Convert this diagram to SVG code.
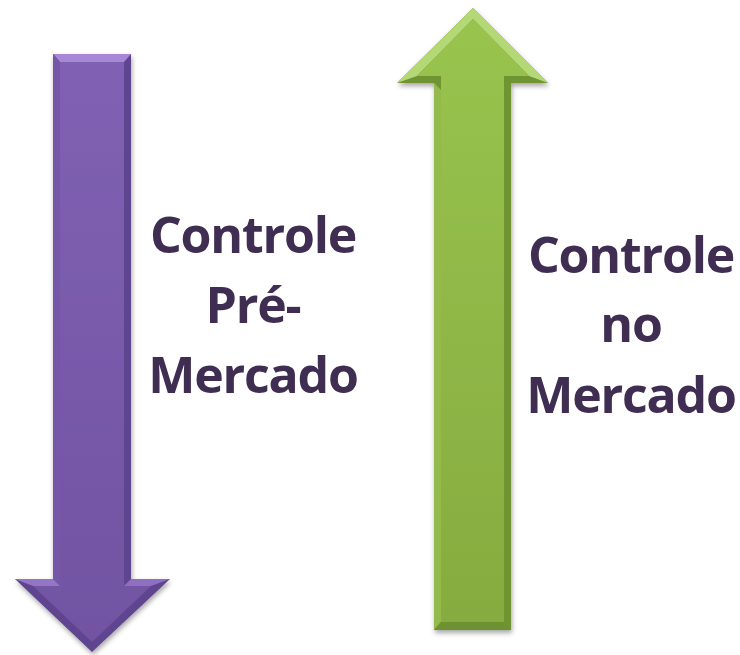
<svg xmlns="http://www.w3.org/2000/svg" width="740" height="655" viewBox="0 0 740 655">
<defs>
<filter id="sh" x="-20%" y="-10%" width="140%" height="120%">
<feDropShadow dx="1" dy="3" stdDeviation="2.5" flood-color="#000" flood-opacity="0.35"/>
</filter>
<linearGradient id="pg" x1="0" y1="0" x2="0" y2="1">
<stop offset="0" stop-color="#8060B2"/>
<stop offset="1" stop-color="#7153A2"/>
</linearGradient>
<linearGradient id="gg" x1="0" y1="0" x2="0" y2="1">
<stop offset="0" stop-color="#98C44E"/>
<stop offset="1" stop-color="#86AB40"/>
</linearGradient>
<style>
.lbl{font-family:"Open Sans","Liberation Sans",sans-serif;font-weight:bold;font-size:50px;letter-spacing:-1.2px;fill:#3F2D52;text-anchor:middle}
</style>
</defs>
<g id="arrow-down" filter="url(#sh)">
<polygon points="53,54 131,54 131,579 170,579 92,652 15,579 53,579" fill="#5F4490"/>
<polygon points="53,54 131,54 124,62 60,62" fill="#A787D6"/>
<polygon points="53,54 60,62 60,586 53,579" fill="#7457A8"/>
<polygon points="15,579 53,579 60,586 33,586" fill="#9575C6"/>
<polygon points="131,579 170,579 151,586 124,586" fill="#8F70C0"/>
<polygon points="60,62 124,62 124,586 151,586 92,642 33,586 60,586" fill="url(#pg)"/>
</g>
<g id="arrow-up" filter="url(#sh)">
<polygon points="473,8 548,83 511,83 511,630 434,630 434,83 397,83" fill="#6F9430"/>
<polygon points="473,8 548,83 529,76 473,19 417,76 397,83" fill="#B3D874"/>
<polygon points="434,83 441,90 441,622 434,630" fill="#93BA4C"/>
<polygon points="434,630 511,630 504,622 441,622" fill="#6E9232"/>
<polygon points="473,19 529,76 504,76 504,622 441,622 441,76 417,76" fill="url(#gg)"/>
</g>
<g id="label-pre">
<text class="lbl" x="253" y="253">Controle</text>
<text class="lbl" x="253" y="323">Pré-</text>
<text class="lbl" x="253" y="393">Mercado</text>
</g>
<g id="label-no">
<text class="lbl" x="631" y="273">Controle</text>
<text class="lbl" x="631" y="342">no</text>
<text class="lbl" x="631" y="413">Mercado</text>
</g>
<g id="connectors"/>
</svg>
